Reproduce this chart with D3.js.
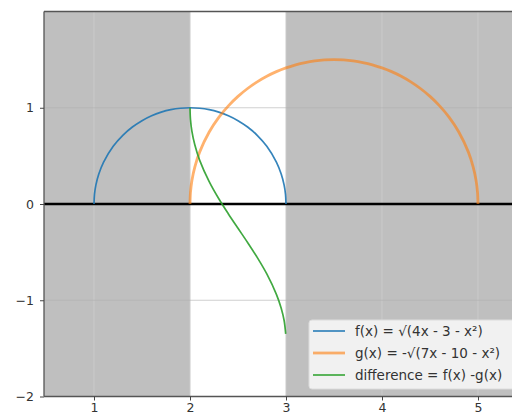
<!DOCTYPE html>
<html><head><meta charset="utf-8">
<script src="https://cdn.jsdelivr.net/npm/d3@7"></script>
<style>body{margin:0;background:#fff}svg{display:block;font-family:"DejaVu Sans",sans-serif}</style>
</head><body><svg id="c" width="512" height="417"></svg>
<script>
// data
const fX = [1.0,1.005,1.02,1.05,1.1,1.2,1.3,1.4,1.5,1.6,1.7,1.8,1.9,2.0,2.1,2.2,2.3,2.4,2.5,2.6,2.7,2.8,2.9,2.95,2.98,2.995,3.0];
const fY = [0,0.1,0.199,0.312,0.436,0.6,0.714,0.8,0.866,0.917,0.954,0.98,0.995,1,0.995,0.98,0.954,0.917,0.866,0.8,0.714,0.6,0.436,0.312,0.199,0.1,0];
const gX = [2.0,2.005,2.02,2.05,2.1,2.2,2.3,2.4,2.5,2.6,2.7,2.8,2.9,3.0,3.1,3.2,3.3,3.4,3.5,3.6,3.7,3.8,3.9,4.0,4.1,4.2,4.3,4.4,4.5,4.6,4.7,4.8,4.9,4.95,4.98,4.995,5.0];
const gY = [0,0.122,0.245,0.384,0.539,0.748,0.9,1.02,1.118,1.2,1.269,1.327,1.375,1.414,1.446,1.47,1.487,1.497,1.5,1.497,1.487,1.47,1.446,1.414,1.375,1.327,1.269,1.2,1.118,1.02,0.9,0.748,0.539,0.384,0.245,0.122,0];
const dX = [2.0,2.005,2.02,2.05,2.1,2.2,2.3,2.4,2.5,2.6,2.7,2.8,2.9,2.95,2.98,2.997];
const dY = [1,0.878,0.755,0.615,0.456,0.232,0.054,-0.103,-0.252,-0.4,-0.555,-0.727,-0.939,-1.083,-1.208,-1.35];
const shadeSpans = [[0.3,2],[3,6]];
const xTicks = [1,2,3,4,5];
const yTicks = [-2,-1,0,1];
const legendLabels = ["f(x) = \u221a(4x - 3 - x\u00b2)","g(x) = -\u221a(7x - 10 - x\u00b2)","difference = f(x) -g(x)"];
const colors = ["#1f77b4","#ff7f0e","#2ca02c"];

const svg = d3.select("#c");
const L=44, T=11.5, B=396.5, R=512;
const x = d3.scaleLinear().domain([1,5]).range([94,478]);
const y = d3.scaleLinear().domain([-2,2]).range([B,T]);

svg.append("defs").append("clipPath").attr("id","pc").append("rect")
  .attr("x",L).attr("y",T).attr("width",R-L+5).attr("height",B-T);
const g = svg.append("g").attr("clip-path","url(#pc)");

g.append("rect").attr("x",L).attr("y",T).attr("width",R-L+5).attr("height",B-T).attr("fill","#fff");
g.selectAll("rect.s").data(shadeSpans).enter().append("rect").attr("class","s")
  .attr("x",d=>x(d[0])).attr("width",d=>x(d[1])-x(d[0])).attr("y",T).attr("height",B-T)
  .attr("fill","#bfbfbf");
g.selectAll("line.gx").data(xTicks).enter().append("line")
  .attr("x1",d=>x(d)).attr("x2",d=>x(d)).attr("y1",T).attr("y2",B)
  .attr("stroke","#cacaca").attr("stroke-width",1);
g.selectAll("line.gy").data(yTicks).enter().append("line")
  .attr("x1",L).attr("x2",R+5).attr("y1",d=>y(d)).attr("y2",d=>y(d))
  .attr("stroke","#b0b0b0").attr("stroke-opacity",0.6).attr("stroke-width",1);
g.append("line").attr("x1",L).attr("x2",R+5).attr("y1",y(0)).attr("y2",y(0))
  .attr("stroke","#000").attr("stroke-width",2.4);

const series = [[fX,fY],[gX,gY],[dX,dY]];
const widths=[1.7,2.8,1.7], ops=[0.9,0.6,0.9];
const ln = d3.line().x(d=>x(d[0])).y(d=>y(d[1])).curve(d3.curveCatmullRom);
series.forEach((s,i)=>{
  const pts = s[0].map((v,j)=>[v,s[1][j]]);
  g.append("path").attr("d",ln(pts)).attr("fill","none").attr("stroke",colors[i])
    .attr("stroke-width",widths[i]).attr("stroke-opacity",ops[i]);
});

svg.append("line").attr("x1",L).attr("x2",R).attr("y1",T).attr("y2",T).attr("stroke","#555").attr("stroke-width",1.3);
svg.append("line").attr("x1",L).attr("x2",L).attr("y1",T).attr("y2",B).attr("stroke","#555").attr("stroke-width",1.3);
svg.append("line").attr("x1",L).attr("x2",R).attr("y1",B).attr("y2",B).attr("stroke","#555").attr("stroke-width",1.3);

const xa = svg.append("g").attr("transform",`translate(0,${B})`)
  .call(d3.axisBottom(x).tickValues(xTicks).tickSize(4).tickPadding(3).tickFormat(d3.format("d")));
const ya = svg.append("g").attr("transform",`translate(${L},0)`)
  .call(d3.axisLeft(y).tickValues(yTicks).tickSize(4).tickPadding(6).tickFormat(d=>d<0?"\u2212"+Math.abs(d):d));
[xa,ya].forEach(a=>{
  a.select(".domain").remove();
  a.selectAll(".tick line").attr("stroke","#444");
  a.selectAll("text").attr("font-size",12.5).attr("fill","#333").attr("font-family","DejaVu Sans");
});

const lg = svg.append("g");
lg.append("rect").attr("x",309).attr("y",320).attr("width",215).attr("height",69).attr("rx",3)
  .attr("fill","#f3f3f3").attr("fill-opacity",0.95).attr("stroke","#dcdcdc");
legendLabels.forEach((t,i)=>{
  const yy = 331 + i*22;
  lg.append("line").attr("x1",313).attr("x2",345).attr("y1",yy).attr("y2",yy)
    .attr("stroke",colors[i]).attr("stroke-width",widths[i]).attr("stroke-opacity",ops[i]);
  lg.append("text").attr("x",355).attr("y",yy+4.5).attr("font-size",13.5).attr("fill","#333").text(t);
});
</script></body></html>
